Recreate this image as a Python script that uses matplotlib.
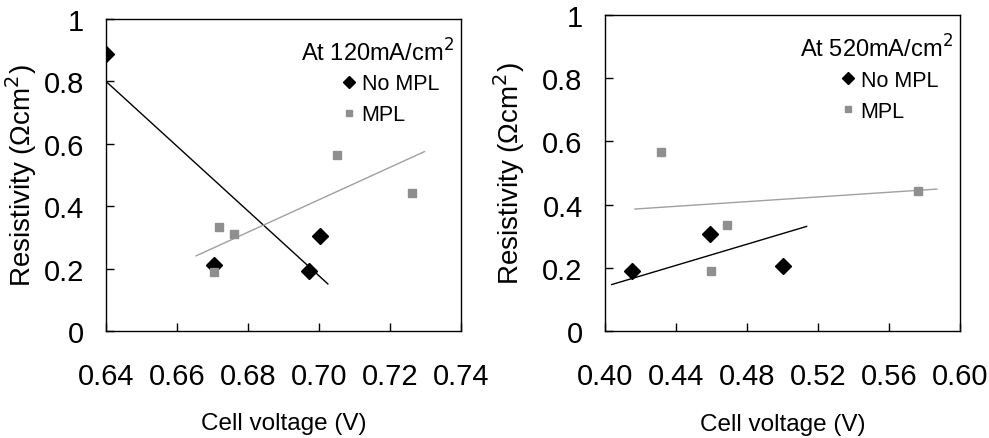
import matplotlib
matplotlib.use("Agg")
import matplotlib.pyplot as plt

plt.rcParams['font.family'] = ['Liberation Sans', 'DejaVu Sans']

# left panel: 120 mA/cm2
v120_nompl = [0.640, 0.6705, 0.6973, 0.7003]
r120_nompl = [0.888, 0.212, 0.193, 0.305]
v120_mpl = [0.6703, 0.6719, 0.6761, 0.7051, 0.7261]
r120_mpl = [0.190, 0.334, 0.311, 0.565, 0.442]
trend120_nompl_x = [0.640, 0.7025]
trend120_nompl_y = [0.800, 0.151]
trend120_mpl_x = [0.6654, 0.7297]
trend120_mpl_y = [0.241, 0.575]

# right panel: 520 mA/cm2
v520_nompl = [0.415, 0.4592, 0.5001]
r520_nompl = [0.191, 0.307, 0.207]
v520_mpl = [0.4315, 0.4597, 0.4685, 0.5765]
r520_mpl = [0.567, 0.191, 0.335, 0.442]
trend520_nompl_x = [0.4038, 0.5136]
trend520_nompl_y = [0.147, 0.331]
trend520_mpl_x = [0.4169, 0.5869]
trend520_mpl_y = [0.386, 0.449]

xticks120 = [0.64, 0.66, 0.68, 0.70, 0.72, 0.74]
xticks520 = [0.40, 0.44, 0.48, 0.52, 0.56, 0.60]
yticks = [0, 0.2, 0.4, 0.6, 0.8, 1.0]
ytick_labels = ['0', '0.2', '0.4', '0.6', '0.8', '1']

GRAY = '#8f8f8f'


def draw_panel(ax, vn, rn, vm, rm, tnx, tny, tmx, tmy, xticks, title):
    ax.plot(tnx, tny, color='black', lw=1.0, zorder=2)
    ax.plot(tmx, tmy, color='#a0a0a0', lw=1.0, zorder=2)
    ax.plot(vn, rn, 'D', color='black', ms=8, ls='none', label='No MPL', zorder=3)
    ax.plot(vm, rm, 's', color=GRAY, ms=6, ls='none', label='MPL', zorder=3)
    ax.set_xlim(xticks[0], xticks[-1])
    ax.set_ylim(0, 1)
    ax.set_xticks(xticks)
    ax.set_xticklabels(['%.2f' % x for x in xticks])
    ax.set_yticks(yticks)
    ax.set_yticklabels(ytick_labels)
    ax.tick_params(axis='x', direction='in', length=6, width=1, pad=22, labelsize=21)
    ax.tick_params(axis='y', direction='in', length=6, width=1, pad=16, labelsize=21)
    for s in ax.spines.values():
        s.set_linewidth(1.0)
    ax.set_xlabel('Cell voltage (V)', fontsize=17.5)
    ax.set_ylabel('Resistivity (\u03a9cm$^2$)', fontsize=20)
    ax.xaxis.set_label_coords(0.5, -0.26)
    ax.text(0.98, 0.895, title, transform=ax.transAxes, ha='right', va='center', fontsize=17)
    ax.legend(loc='upper left', bbox_to_anchor=(0.635, 0.86), frameon=False, fontsize=15.5,
              handlelength=0.6, handletextpad=0.3, labelspacing=0.45, borderpad=0,
              markerscale=0.8)


fig = plt.figure(figsize=(9.89, 4.39), dpi=100)
ax1 = fig.add_axes([0.1072, 0.2437, 0.3589, 0.7107])
ax2 = fig.add_axes([0.6117, 0.2437, 0.3590, 0.7199])

draw_panel(ax1, v120_nompl, r120_nompl, v120_mpl, r120_mpl,
           trend120_nompl_x, trend120_nompl_y, trend120_mpl_x, trend120_mpl_y,
           xticks120, 'At 120mA/cm$^2$')
draw_panel(ax2, v520_nompl, r520_nompl, v520_mpl, r520_mpl,
           trend520_nompl_x, trend520_nompl_y, trend520_mpl_x, trend520_mpl_y,
           xticks520, 'At 520mA/cm$^2$')
ax1.yaxis.set_label_coords(-0.19, 0.5)
ax2.yaxis.set_label_coords(-0.22, 0.5)

fig.savefig('out.png', dpi=100)
